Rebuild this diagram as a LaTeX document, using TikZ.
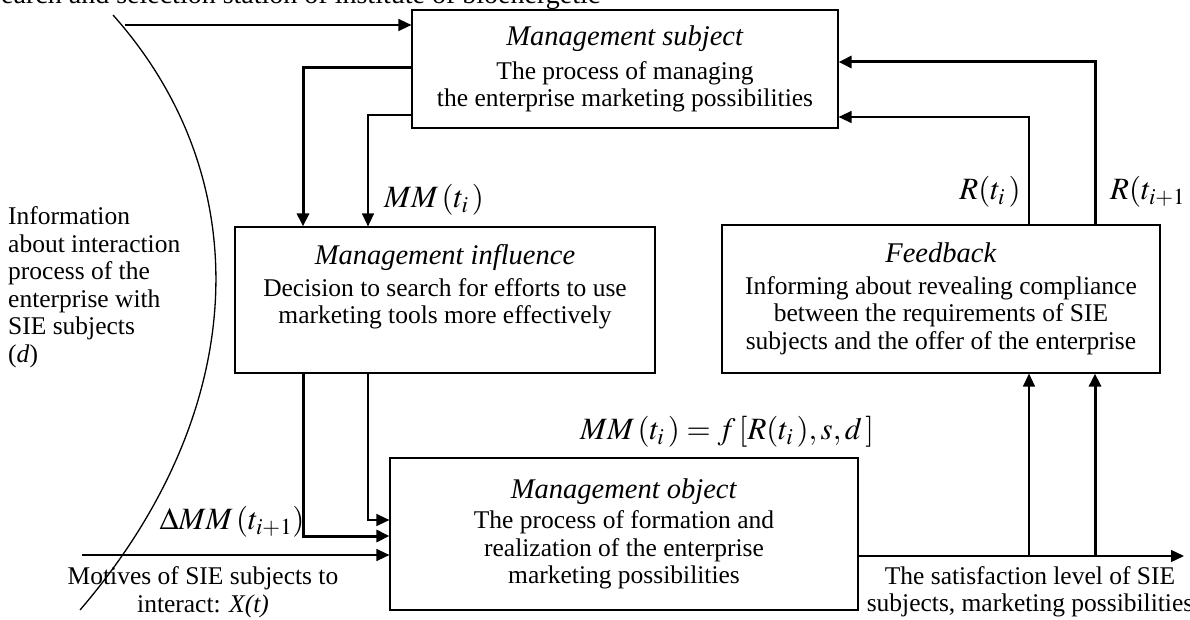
\documentclass[tikz,border=0pt]{standalone}
\usepackage{mathptmx}
\usepackage{fontspec}
\setmainfont{Liberation Serif}
\usetikzlibrary{arrows.meta}
\newcommand\bigtext{\fontsize{25.5}{27.5}\selectfont}
\newcommand\boxtitle[1]{{\fontsize{28.5}{29}\selectfont\textit{#1}}}

\begin{document}
\begin{tikzpicture}[x=1pt, y=-1pt, >={Triangle[length=13pt, width=12pt]},
  box/.style={draw, line width=1.2pt, align=center, inner sep=0pt, font=\bigtext},
  txt/.style={align=center, inner sep=0pt, font=\bigtext},
  lbl/.style={inner sep=0pt, font=\fontsize{31}{34}\selectfont},
  flow/.style={line width=1.3pt}, mainflow/.style={line width=3pt}]
\clip (0,0) rectangle (1190,620);
\node[txt, anchor=base west, font=\fontsize{28}{30}\selectfont] (station) at (1,4) {earch and selection station of institute of bioenergetic};
% the four blocks
\node[box, minimum width=426pt, minimum height=118pt] (subj) at (625,69) {\boxtitle{Management subject}\\[6pt]The process of managing\\the enterprise marketing possibilities};
\node[box, minimum width=420pt, minimum height=146pt] (infl) at (445,300) {\boxtitle{Management influence}\\[4pt]Decision to search for efforts to use\\marketing tools more effectively\\[4pt]};
\node[box, minimum width=438pt, minimum height=148pt] (fb) at (941,299) {\boxtitle{Feedback}\\[4pt]Informing about revealing compliance\\between the requirements of SIE\\subjects and the offer of the enterprise};
\node[box, minimum width=468pt, minimum height=152pt] (obj) at (624,534) {\boxtitle{Management object}\\[3pt]The process of formation and\\realization of the enterprise\\marketing possibilities};
% environment border
\coordinate (ctop) at (113,15);
\coordinate (cbot) at (80,610);
\draw[flow] (ctop) .. controls (260,180) and (250,412) .. (cbot);
\node[txt, align=left, anchor=west] (info) at (8,287) {Information\\about interaction\\process of the\\enterprise with\\SIE subjects\\(\textit{d})};
\coordinate (infoin) at (125,25);
\draw[flow, ->] (infoin) -- (subj.west |- infoin);
% subject -> influence
\draw[mainflow, ->] (subj.west |- 0,68) -| (infl.north -| 303,0);
\draw[flow, ->] (subj.west |- 0,115) -| (infl.north -| 368,0);
\node[lbl] (mm) at (434,200) {$MM\,(t_i\,)$};
% influence -> object
\draw[mainflow, ->] (infl.south -| 303,0) |- (obj.west |- 0,536);
\draw[flow, ->] (infl.south -| 368,0) |- (obj.west |- 0,520);
\node[lbl] (dmm) at (232,522) {$\Delta MM\,(t_{i+1})$};
\node[lbl] (law) at (727,432) {$MM\,(t_i\,)=f\,[R(t_i\,),s,d\,]$};
% input and output
\coordinate (xin) at (82,555);
\draw[flow, ->] (xin) -- (obj.west |- xin);
\node[txt] (motives) at (203,592) {Motives of SIE subjects to\\interact: \textit{X(t)}};
\coordinate (yout) at (1184,556);
\draw[flow, ->] (obj.east |- yout) -- (yout);
\node[txt] (level) at (1030,592) {The satisfaction level of SIE\\subjects, marketing possibilities};
% feedback loop
\draw[flow, ->] (1029,556) -- (fb.south -| 1029,0);
\draw[mainflow, ->] (1095,556) -- (fb.south -| 1095,0);
\draw[flow, ->] (fb.north -| 1029,0) |- (subj.east |- 0,117);
\draw[mainflow, ->] (fb.north -| 1095,0) |- (subj.east |- 0,62);
\node[lbl] (r1) at (990,192) {$R(t_i\,)$};
\node[lbl, anchor=west] (r2) at (1110,192) {$R(t_{i+1}\,)$};
\end{tikzpicture}
\end{document}
